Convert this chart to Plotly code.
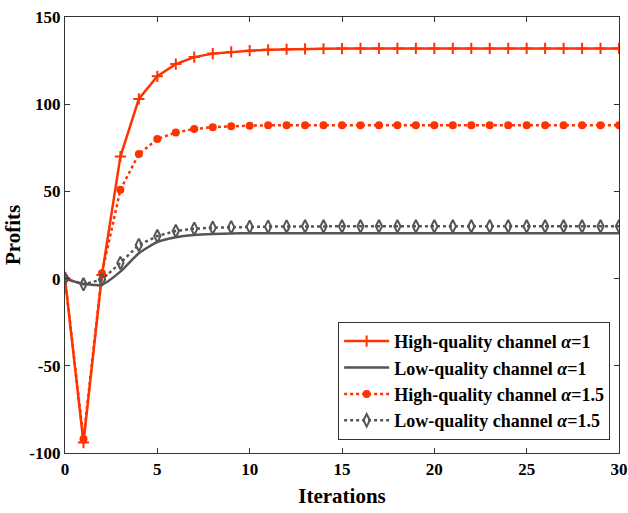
import plotly.graph_objects as go

iterations = list(range(31))
high_a1 = [0, -94, 2, 70, 103, 116, 123, 127, 129, 130, 130.7, 131.2, 131.5, 131.7, 131.8, 131.9] + [132] * 15
low_a1 = [0, -3, -3.5, 4, 14.5, 21, 23.7, 25, 25.6, 25.9, 26] + [26] * 20
high_a15 = [0, -92, 3, 51, 71.4, 80, 83.8, 85.8, 86.8, 87.4, 87.7, 87.9] + [88] * 19
low_a15 = [0, -3.3, -0.5, 9, 19.3, 24.4, 27.3, 28.6, 29.2, 29.5, 29.7, 29.8, 29.9] + [30] * 18
x_ticks = [0, 5, 10, 15, 20, 25, 30]
y_ticks = [-100, -50, 0, 50, 100, 150]
y_tick_labels = ["-100", "-50", "0", "50", "100", "150"]

RED = "#FF3300"
GRAY = "#555555"
FONT = "Liberation Serif"

fig = go.Figure()
fig.add_trace(go.Scatter(
    x=iterations, y=high_a1, mode="lines+markers",
    name="<b>High-quality channel <i>α</i>=1</b>",
    line=dict(color=RED, width=2.5),
    marker=dict(symbol="cross-thin", size=8, line=dict(color=RED, width=2), color=RED),
))
fig.add_trace(go.Scatter(
    x=iterations, y=low_a1, mode="lines",
    name="<b>Low-quality channel <i>α</i>=1</b>",
    line=dict(color=GRAY, width=2.5, shape="spline", smoothing=0.6),
))
fig.add_trace(go.Scatter(
    x=iterations, y=high_a15, mode="lines+markers",
    name="<b>High-quality channel <i>α</i>=1.5</b>",
    line=dict(color=RED, width=2.5, dash="dot"),
    marker=dict(symbol="circle", size=8, color=RED),
))
fig.add_trace(go.Scatter(
    x=iterations, y=low_a15, mode="lines+markers",
    name="<b>Low-quality channel <i>α</i>=1.5</b>",
    line=dict(color=GRAY, width=2.5, dash="dot"),
    marker=dict(symbol="diamond-tall-open", size=9, color=GRAY, line=dict(color=GRAY, width=2)),
))

axis_common = dict(
    showgrid=False, zeroline=False, showline=True, linecolor="#333333", linewidth=1.2,
    mirror="ticks", ticks="inside", ticklen=5, tickcolor="#333333", automargin=False,
    tickfont=dict(family=FONT, size=17, color="black", weight="bold"),
)
fig.update_xaxes(range=[0, 30], tickmode="array", tickvals=x_ticks,
                 title=dict(text="<b>Iterations</b>", font=dict(family=FONT, size=21, color="black"), standoff=10),
                 **axis_common)
fig.update_yaxes(range=[-100, 150], tickmode="array", tickvals=y_ticks, ticktext=y_tick_labels,
                 title=dict(text="<b>Profits</b>", font=dict(family=FONT, size=21, color="black"), standoff=2),
                 **axis_common)

fig.update_layout(
    width=628, height=513,
    margin=dict(l=65, r=9, t=17, b=60),
    plot_bgcolor="white", paper_bgcolor="white",
    font=dict(family=FONT, color="black"),
    legend=dict(
        x=0.984, y=0.03, xanchor="right", yanchor="bottom",
        bordercolor="#333333", borderwidth=1, bgcolor="white",
        font=dict(family=FONT, size=18, color="black"),
        itemwidth=45, tracegroupgap=0,
    ),
    showlegend=True,
)

fig.write_html("out.html")
